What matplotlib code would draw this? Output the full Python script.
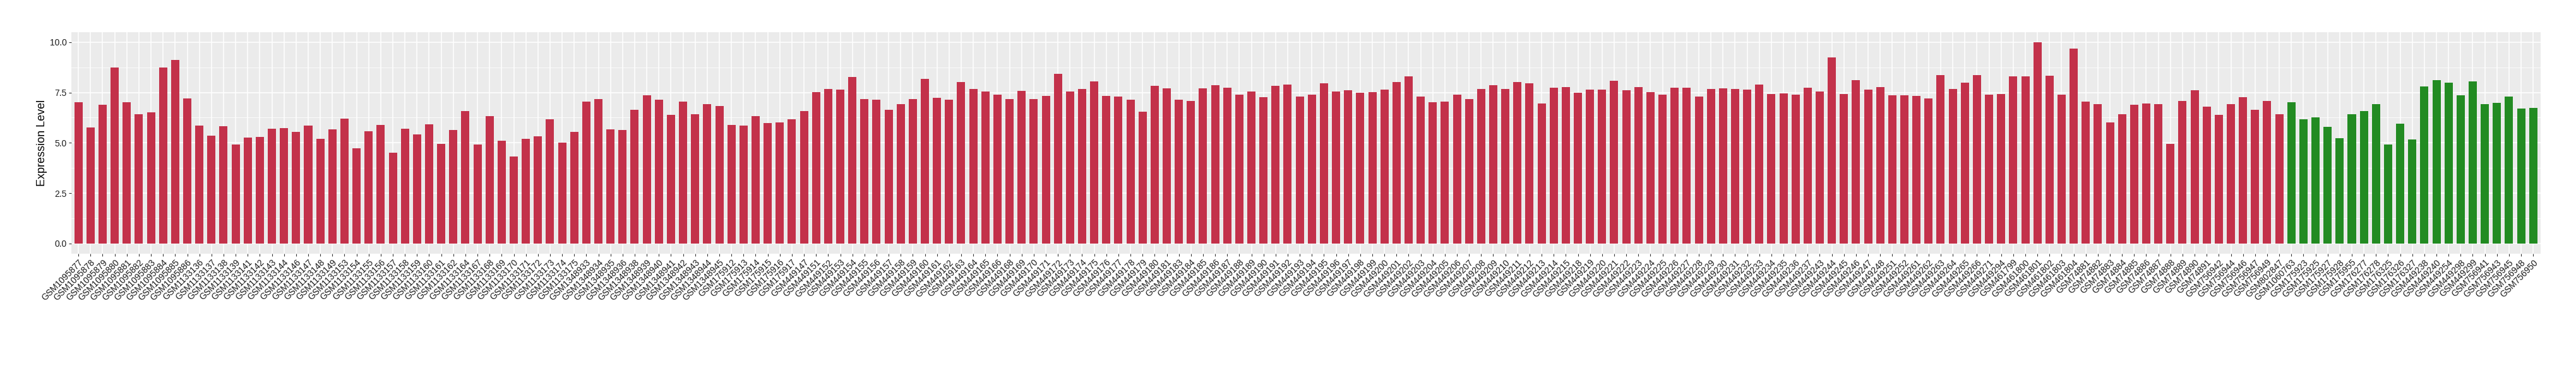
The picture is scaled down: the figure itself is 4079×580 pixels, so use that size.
import numpy as np
import matplotlib
matplotlib.use('Agg')
import matplotlib.pyplot as plt
from matplotlib.ticker import MultipleLocator

plt.rcParams['font.family'] = ['Liberation Sans', 'DejaVu Sans']

# muestras (orden alfabetico como en la figura)
grupo_a = (
    ['GSM10958' + s for s in ['77', '78', '79', '80', '81', '82', '83', '84', '85', '86']]
    + ['GSM1133' + s for s in ['136', '137', '138', '139', '141', '142', '143', '144', '146', '147',
                               '148', '149', '153', '154', '155', '156', '157', '158', '159', '160',
                               '161', '162', '164', '167', '168', '169', '170', '171', '172', '173',
                               '174', '175']]
    + ['GSM1348' + s for s in ['933', '934', '935', '936', '938', '939', '940', '941', '942', '943',
                               '944', '945']]
    + ['GSM1759' + s for s in ['12', '13', '14', '15', '16', '17']]
    + ['GSM449' + s for s in ['147', '151', '152', '153', '154', '155', '156', '157', '158', '159',
                              '160', '161', '162', '163', '164', '165', '166', '168', '169', '170',
                              '171', '172', '173', '174', '175', '176', '177', '178', '179', '180',
                              '181', '183', '184', '185', '186', '187', '188', '189', '190', '191',
                              '192', '193', '194', '195', '196', '197', '198', '199', '200', '201',
                              '202', '203', '204', '205', '206', '207', '208', '209', '210', '211',
                              '212', '213', '214', '215', '218', '219', '220', '221', '222', '223',
                              '224', '225', '226', '227', '228', '229', '230', '231', '232', '233',
                              '234', '235', '236', '237', '243', '244', '245', '246', '247', '248',
                              '251', '252', '261', '262', '263', '264', '265', '266', '271', '294']]
    + ['GSM461' + s for s in ['799', '800', '801', '802', '803', '804']]
    + ['GSM748' + s for s in ['81', '82', '83', '84', '85', '86', '87', '88', '89', '90', '91']]
    + ['GSM7569' + s for s in ['42', '44', '46', '47', '49']]
    + ['GSM802847']
)

valores_a = [
    7.01, 5.75, 6.88, 8.73, 7.01, 6.43, 6.51, 8.73, 9.13, 7.21,
    5.86, 5.35, 5.83, 4.93, 5.27, 5.29, 5.69, 5.72, 5.55, 5.86,
    5.19, 5.67, 6.20, 4.73, 5.58, 5.89, 4.51, 5.69, 5.41, 5.92,
    4.96, 5.64, 6.59, 4.93, 6.33, 5.10, 4.31, 5.21, 5.32, 6.17,
    5.01, 5.55, 7.04, 7.19, 5.67, 5.64, 6.65, 7.35, 7.13, 6.40,
    7.04, 6.43, 6.93, 6.84, 5.89, 5.86, 6.33, 5.97, 6.00, 6.17,
    6.59, 7.52, 7.67, 7.64, 8.28, 7.16, 7.13, 6.63, 6.93, 7.16,
    8.17, 7.24, 7.13, 8.03, 7.69, 7.55, 7.41, 7.19, 7.57, 7.19,
    7.32, 8.43, 7.55, 7.67, 8.05, 7.32, 7.29, 7.13, 6.56, 7.83,
    7.72, 7.13, 7.09, 7.72, 7.85, 7.75, 7.39, 7.55, 7.27, 7.83,
    7.89, 7.29, 7.41, 7.97, 7.55, 7.60, 7.49, 7.52, 7.64, 8.03,
    8.31, 7.29, 7.01, 7.04, 7.41, 7.16, 7.69, 7.85, 7.67, 8.03,
    7.97, 6.96, 7.75, 7.77, 7.49, 7.64, 7.64, 8.08, 7.60, 7.77,
    7.52, 7.39, 7.75, 7.75, 7.29, 7.67, 7.72, 7.69, 7.64, 7.89,
    7.44, 7.47, 7.39, 7.75, 7.55, 9.24, 7.44, 8.11, 7.64, 7.77,
    7.35, 7.35, 7.32, 7.21, 8.36, 7.69, 8.00, 8.36, 7.39, 7.44,
    8.31, 8.31, 10.00, 8.33, 7.41, 9.69, 7.04, 6.93, 6.03, 6.43,
    6.88, 6.96, 6.91, 4.96, 7.09, 7.60, 6.79, 6.40, 6.91, 7.27,
    6.65, 7.09, 6.43,
]

grupo_b = (
    ['GSM1060763']
    + ['GSM1759' + s for s in ['23', '25', '27', '28', '55']]
    + ['GSM176' + s for s in ['277', '278', '325', '326', '327']]
    + ['GSM449' + s for s in ['238', '240', '254', '298', '299']]
    + ['GSM7569' + s for s in ['41', '43', '45', '48', '50']]
)

valores_b = [
    7.01, 6.17, 6.25, 5.80, 5.24, 6.43, 6.59, 6.91, 4.91, 5.95,
    5.16, 7.80, 8.11, 8.00, 7.35, 8.05, 6.91, 6.99, 7.29, 6.71,
    6.73,
]

muestras = grupo_a + grupo_b
valores = valores_a + valores_b
colores = ['#C3314A'] * len(grupo_a) + ['#228B22'] * len(grupo_b)
x = np.arange(len(muestras))

fig = plt.figure(figsize=(40.8, 5.8), dpi=100)
ax = fig.add_axes([0.02762, 0.30741, 0.95834, 0.60466])
ax.set_facecolor('#EBEBEB')

ax.bar(x, valores, width=0.68, color=colores, zorder=3)

ax.set_xlim(-0.6, len(muestras) - 0.4)
ax.set_ylim(-0.5, 10.5)
ax.yaxis.set_minor_locator(MultipleLocator(1.25))
ax.set_yticks([0, 2.5, 5, 7.5, 10])
ax.set_yticklabels(['0.0', '2.5', '5.0', '7.5', '10.0'])
ax.set_xticks(x)
ax.set_xticklabels(muestras, rotation=45, ha='right', va='top', rotation_mode='anchor')

ax.grid(which='major', color='white', linewidth=1.1, zorder=0)
ax.grid(which='minor', axis='y', color='white', linewidth=0.55, zorder=0)
ax.set_axisbelow(True)
for s in ax.spines.values():
    s.set_visible(False)

ax.tick_params(axis='both', which='major', length=3, width=0.8, color='#333333',
               labelsize=10, labelcolor='#1A1A1A', pad=2)
ax.tick_params(axis='y', which='minor', length=0)

ax.set_ylabel('Expression Level', fontsize=13, labelpad=3)

fig.savefig('out.png', dpi=100)
